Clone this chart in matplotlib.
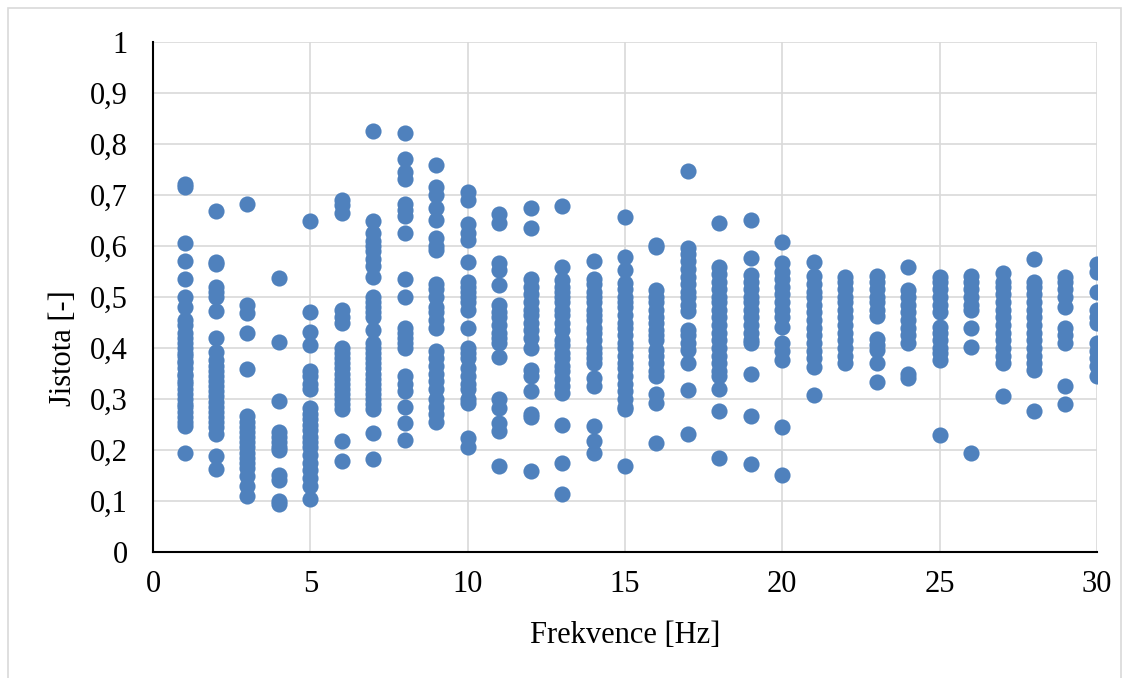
import matplotlib.pyplot as plt
from matplotlib.patches import Rectangle

# Jistota (confidence) values measured at each frequency
jistota = {
    1: [0.722, 0.715, 0.605, 0.57, 0.535, 0.50, 0.48, 0.455, 0.445, 0.43, 0.42, 0.41, 0.40,
        0.39, 0.385, 0.375, 0.37, 0.36, 0.35, 0.345, 0.335, 0.33, 0.32, 0.31, 0.30, 0.29,
        0.285, 0.275, 0.265, 0.255, 0.248, 0.195],
    2: [0.668, 0.569, 0.565, 0.52, 0.51, 0.50, 0.473, 0.42, 0.393, 0.377, 0.365, 0.355,
        0.345, 0.335, 0.325, 0.315, 0.305, 0.295, 0.285, 0.275, 0.265, 0.255, 0.245, 0.232,
        0.188, 0.162],
    3: [0.683, 0.484, 0.468, 0.43, 0.359, 0.266, 0.255, 0.245, 0.235, 0.225, 0.215, 0.205,
        0.195, 0.185, 0.175, 0.165, 0.15, 0.13, 0.11],
    4: [0.538, 0.412, 0.297, 0.235, 0.225, 0.215, 0.205, 0.20, 0.151, 0.142, 0.10, 0.095],
    5: [0.65, 0.471, 0.432, 0.406, 0.355, 0.345, 0.33, 0.32, 0.282, 0.27, 0.26, 0.25, 0.24,
        0.225, 0.215, 0.205, 0.19, 0.175, 0.16, 0.145, 0.13, 0.103],
    6: [0.69, 0.68, 0.665, 0.474, 0.46, 0.449, 0.40, 0.39, 0.38, 0.37, 0.36, 0.35, 0.34,
        0.33, 0.32, 0.31, 0.30, 0.29, 0.28, 0.217, 0.178],
    7: [0.825, 0.65, 0.625, 0.61, 0.60, 0.59, 0.575, 0.56, 0.54, 0.50, 0.49, 0.48, 0.47,
        0.46, 0.435, 0.41, 0.40, 0.39, 0.38, 0.37, 0.36, 0.35, 0.34, 0.33, 0.32, 0.31, 0.30,
        0.29, 0.28, 0.234, 0.182],
    8: [0.821, 0.77, 0.745, 0.732, 0.683, 0.67, 0.658, 0.625, 0.535, 0.501, 0.44, 0.43,
        0.42, 0.41, 0.40, 0.345, 0.33, 0.315, 0.285, 0.253, 0.22],
    9: [0.758, 0.715, 0.70, 0.675, 0.652, 0.615, 0.60, 0.592, 0.525, 0.515, 0.50, 0.48,
        0.47, 0.455, 0.44, 0.395, 0.38, 0.365, 0.35, 0.335, 0.32, 0.30, 0.285, 0.27, 0.255],
    10: [0.706, 0.69, 0.644, 0.625, 0.611, 0.569, 0.53, 0.52, 0.51, 0.50, 0.49, 0.475,
         0.439, 0.40, 0.39, 0.38, 0.36, 0.345, 0.33, 0.32, 0.30, 0.293, 0.224, 0.205],
    11: [0.663, 0.645, 0.566, 0.553, 0.524, 0.485, 0.47, 0.46, 0.445, 0.43, 0.42, 0.41,
         0.382, 0.30, 0.282, 0.253, 0.237, 0.168],
    12: [0.675, 0.635, 0.535, 0.52, 0.505, 0.49, 0.475, 0.465, 0.45, 0.435, 0.42, 0.40,
         0.357, 0.345, 0.315, 0.27, 0.264, 0.159],
    13: [0.678, 0.559, 0.533, 0.52, 0.51, 0.50, 0.49, 0.475, 0.465, 0.45, 0.435, 0.416,
         0.405, 0.39, 0.38, 0.365, 0.355, 0.34, 0.325, 0.312, 0.249, 0.175, 0.113],
    14: [0.571, 0.536, 0.525, 0.51, 0.50, 0.49, 0.475, 0.465, 0.455, 0.44, 0.43, 0.415,
         0.40, 0.39, 0.38, 0.37, 0.341, 0.325, 0.248, 0.218, 0.195],
    15: [0.656, 0.579, 0.553, 0.527, 0.515, 0.50, 0.49, 0.48, 0.465, 0.45, 0.44, 0.425,
         0.41, 0.40, 0.385, 0.37, 0.36, 0.345, 0.33, 0.315, 0.30, 0.285, 0.28, 0.168],
    16: [0.603, 0.598, 0.514, 0.50, 0.49, 0.475, 0.46, 0.45, 0.435, 0.425, 0.416, 0.397,
         0.385, 0.37, 0.355, 0.345, 0.31, 0.293, 0.214],
    17: [0.748, 0.597, 0.585, 0.57, 0.555, 0.54, 0.525, 0.51, 0.50, 0.485, 0.473, 0.435,
         0.425, 0.41, 0.396, 0.37, 0.318, 0.232],
    18: [0.645, 0.559, 0.545, 0.53, 0.515, 0.50, 0.49, 0.475, 0.46, 0.445, 0.43, 0.415,
         0.40, 0.385, 0.37, 0.355, 0.345, 0.319, 0.277, 0.185],
    19: [0.652, 0.577, 0.543, 0.53, 0.515, 0.50, 0.49, 0.475, 0.46, 0.445, 0.43, 0.415,
         0.41, 0.35, 0.267, 0.173],
    20: [0.608, 0.566, 0.55, 0.535, 0.52, 0.505, 0.49, 0.475, 0.46, 0.442, 0.41, 0.395,
         0.377, 0.245, 0.152],
    21: [0.568, 0.541, 0.525, 0.51, 0.50, 0.485, 0.47, 0.455, 0.44, 0.425, 0.41, 0.395,
         0.38, 0.363, 0.308],
    22: [0.540, 0.53, 0.515, 0.50, 0.49, 0.475, 0.46, 0.445, 0.43, 0.415, 0.40, 0.385, 0.37],
    23: [0.541, 0.53, 0.515, 0.50, 0.49, 0.475, 0.462, 0.417, 0.405, 0.396, 0.37, 0.334],
    24: [0.559, 0.513, 0.50, 0.485, 0.47, 0.455, 0.44, 0.425, 0.41, 0.349, 0.342],
    25: [0.54, 0.53, 0.515, 0.50, 0.485, 0.471, 0.442, 0.43, 0.415, 0.40, 0.39, 0.377, 0.23],
    26: [0.541, 0.53, 0.515, 0.50, 0.485, 0.475, 0.44, 0.403, 0.194],
    27: [0.548, 0.53, 0.52, 0.505, 0.49, 0.475, 0.46, 0.445, 0.43, 0.415, 0.40, 0.385,
         0.37, 0.305],
    28: [0.575, 0.53, 0.52, 0.505, 0.49, 0.475, 0.46, 0.445, 0.43, 0.415, 0.40, 0.385,
         0.37, 0.357, 0.276],
    29: [0.54, 0.53, 0.515, 0.50, 0.481, 0.44, 0.425, 0.41, 0.325, 0.29],
    30: [0.564, 0.55, 0.509, 0.475, 0.46, 0.449, 0.41, 0.395, 0.38, 0.365, 0.345],
}

y_ticks = [0, 0.1, 0.2, 0.3, 0.4, 0.5, 0.6, 0.7, 0.8, 0.9, 1.0]
y_labels = ['0', '0,1', '0,2', '0,3', '0,4', '0,5', '0,6', '0,7', '0,8', '0,9', '1']
x_ticks = [0, 5, 10, 15, 20, 25, 30]

freq = [f for f, vals in jistota.items() for _ in vals]
conf = [v for vals in jistota.values() for v in vals]

plt.rcParams['font.family'] = ['Liberation Serif', 'DejaVu Serif']

fig = plt.figure(figsize=(11.32, 6.78), dpi=100)
ax = fig.add_axes([0.1352, 0.1858, 0.969 - 0.1352, 0.938 - 0.1858])

# light frame around the whole chart
fig.patches.append(Rectangle((8 / 1132, -0.01), 1113 / 1132, 1 - 8 / 678 + 0.01,
                             transform=fig.transFigure, fill=False,
                             edgecolor='#d9d9d9', linewidth=1.2))

ax.scatter(freq, conf, s=135, color='#4f81bd', zorder=3, linewidths=0)

ax.set_xlim(0, 30)
ax.set_ylim(0, 1)
ax.set_xticks(x_ticks)
ax.set_yticks(y_ticks)
ax.set_yticklabels(y_labels)
ax.grid(True, color='#d9d9d9', linewidth=1.2, zorder=0)
ax.set_axisbelow(True)
ax.tick_params(length=0, labelsize=22, colors='black')
ax.tick_params(axis='y', pad=18)
ax.tick_params(axis='x', pad=13)

for side in ['top', 'right']:
    ax.spines[side].set_visible(False)
for side in ['left', 'bottom']:
    ax.spines[side].set_color('black')
    ax.spines[side].set_linewidth(1.5)

ax.set_xlabel('Frekvence [Hz]', fontsize=22, labelpad=16)
ax.set_ylabel('Jistota [-]', fontsize=22)
ax.yaxis.set_label_coords(-0.079, 0.40)

fig.savefig('out.png', dpi=100)
